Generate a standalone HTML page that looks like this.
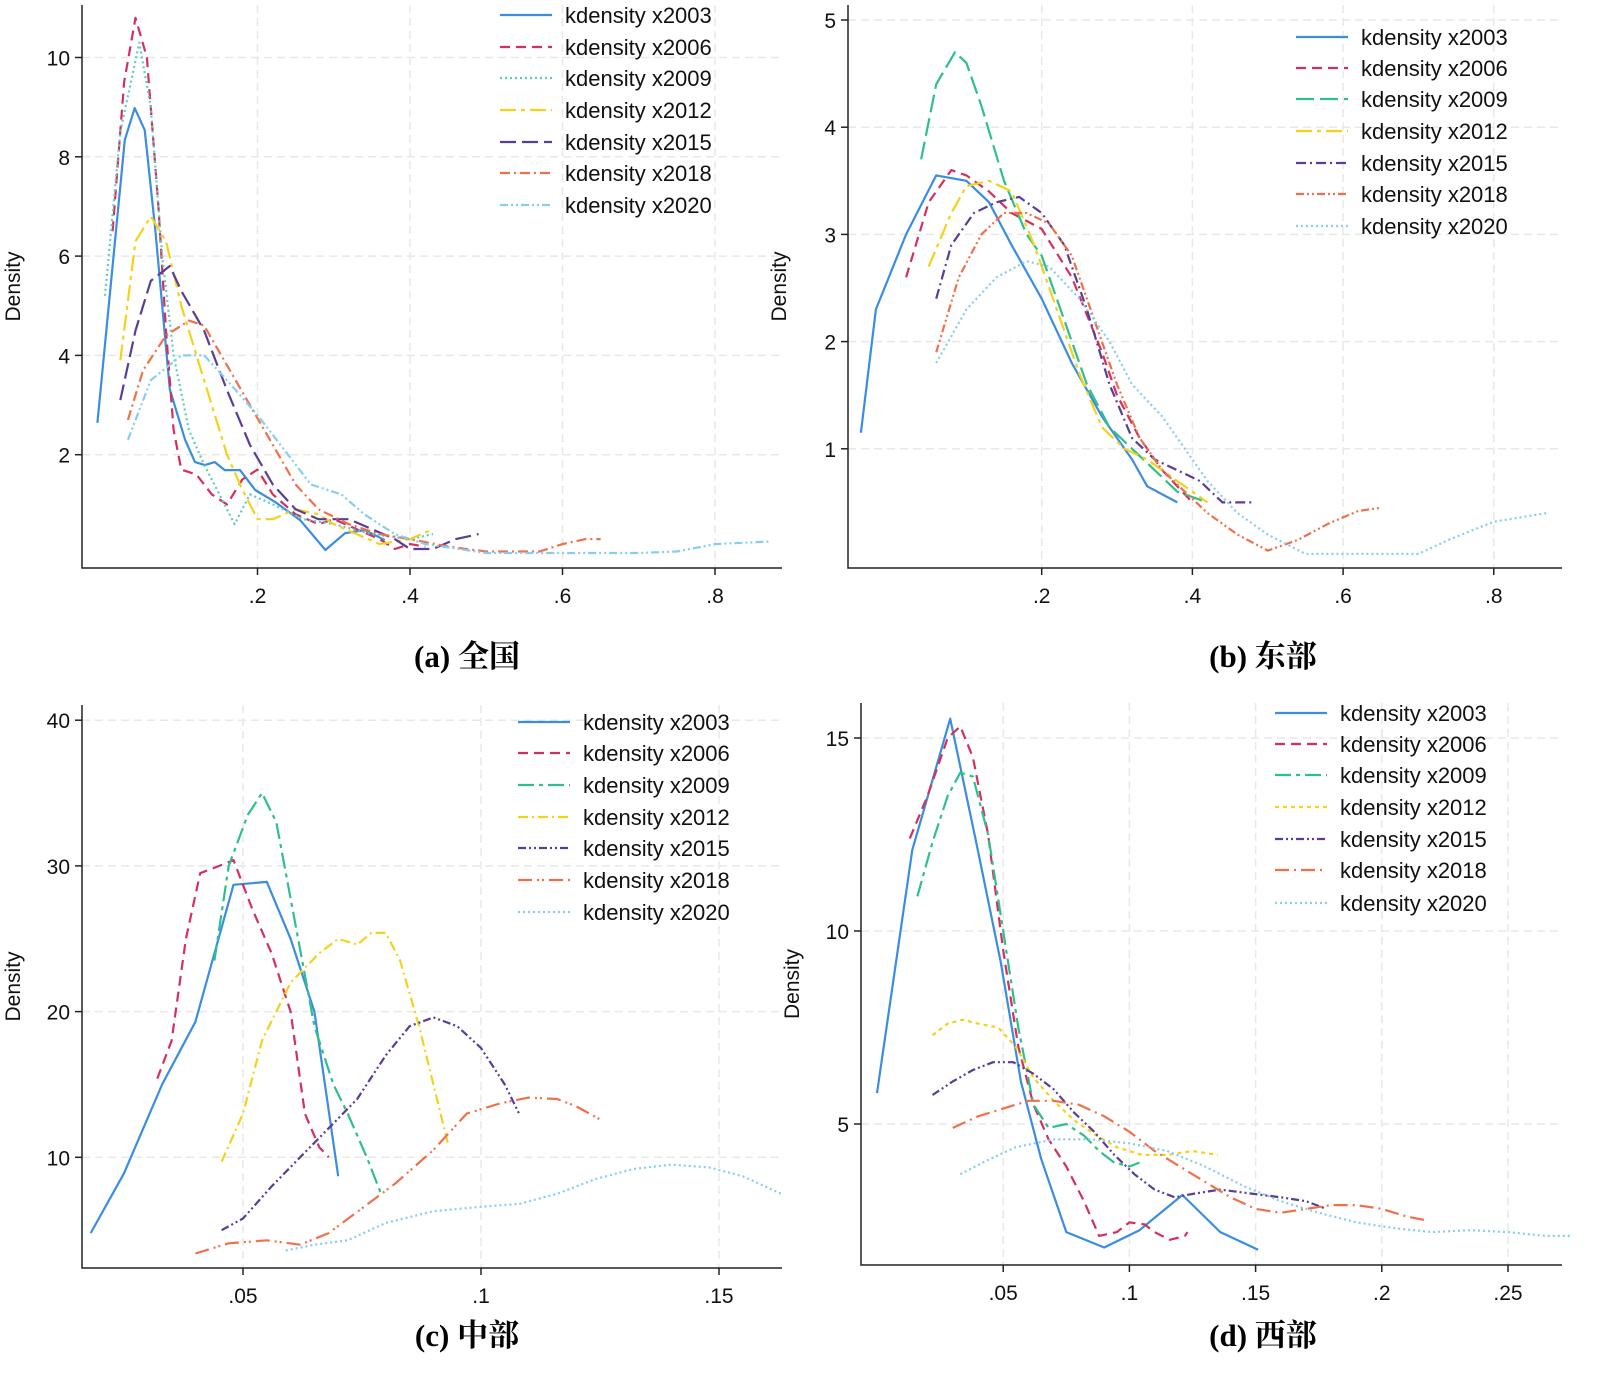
<!DOCTYPE html>
<html><head><meta charset="utf-8">
<style>
html,body{margin:0;padding:0;background:#fff;}
svg{display:block;font-family:"Liberation Sans",sans-serif;}
.cap{font-family:"Liberation Serif","Noto Serif CJK SC",serif;font-size:31px;font-weight:bold;}
</style></head>
<body>
<svg id="chart" width="1600" height="1387" viewBox="0 0 1600 1387">
<text class="cap" x="467" y="667" text-anchor="middle">(a) 全国</text>
<text class="cap" x="1263" y="667" text-anchor="middle">(b) 东部</text>
<text class="cap" x="467" y="1346" text-anchor="middle">(c) 中部</text>
<text class="cap" x="1263" y="1346" text-anchor="middle">(d) 西部</text>
</svg>
<script>
// ---- data ----
const seriesNames = ["kdensity x2003","kdensity x2006","kdensity x2009","kdensity x2012","kdensity x2015","kdensity x2018","kdensity x2020"];
// Panel a
const aTicksX = [0.2,0.4,0.6,0.8];
const aTickLabelsX = [".2",".4",".6",".8"];
const aTicksY = [2,4,6,8,10];
const a2003 = [[-0.01,2.64],[0.026,8.34],[0.039,8.98],[0.052,8.54],[0.066,6.53],[0.085,3.32],[0.105,2.3],[0.118,1.85],[0.131,1.79],[0.144,1.85],[0.157,1.69],[0.177,1.69],[0.197,1.29],[0.223,1.05],[0.256,0.68],[0.289,0.08],[0.315,0.42],[0.341,0.48],[0.367,0.28]];
const a2006 = [[0.01,6.5],[0.025,9.5],[0.04,10.8],[0.055,10],[0.07,7],[0.08,4.5],[0.09,2.5],[0.1,1.7],[0.12,1.6],[0.14,1.2],[0.16,1.0],[0.18,1.5],[0.2,1.7],[0.22,1.2],[0.25,0.8],[0.28,0.6],[0.3,0.7],[0.33,0.5],[0.36,0.3],[0.38,0.1],[0.4,0.2],[0.42,0.15]];
const a2009 = [[0.0,5.2],[0.02,8.5],[0.045,10.3],[0.06,9],[0.075,6],[0.09,4],[0.11,2.5],[0.13,1.8],[0.15,1.2],[0.17,0.6],[0.19,1.2],[0.22,1.0],[0.26,0.7],[0.3,0.6],[0.35,0.4],[0.4,0.3],[0.43,0.4]];
const a2012 = [[0.02,3.9],[0.04,6.3],[0.06,6.8],[0.08,6.3],[0.1,5],[0.12,4],[0.14,3],[0.16,2],[0.18,1.3],[0.2,0.7],[0.22,0.7],[0.25,0.9],[0.28,0.8],[0.3,0.6],[0.33,0.4],[0.36,0.2],[0.4,0.3],[0.43,0.5]];
const a2015 = [[0.02,3.1],[0.04,4.5],[0.06,5.5],[0.085,5.8],[0.1,5.3],[0.13,4.5],[0.16,3.3],[0.19,2.2],[0.22,1.4],[0.25,0.9],[0.28,0.7],[0.32,0.7],[0.35,0.5],[0.38,0.3],[0.4,0.1],[0.43,0.1],[0.46,0.3],[0.49,0.4]];
const a2018 = [[0.03,2.7],[0.05,3.7],[0.08,4.4],[0.11,4.7],[0.13,4.6],[0.16,3.8],[0.19,3.0],[0.22,2.2],[0.25,1.4],[0.28,0.9],[0.32,0.6],[0.36,0.4],[0.4,0.3],[0.45,0.15],[0.5,0.05],[0.57,0.05],[0.6,0.2],[0.63,0.3],[0.65,0.3]];
const a2020 = [[0.03,2.3],[0.06,3.5],[0.1,4.0],[0.13,4.0],[0.16,3.5],[0.2,2.8],[0.24,2.0],[0.27,1.4],[0.31,1.2],[0.34,0.8],[0.38,0.4],[0.42,0.2],[0.5,0.02],[0.6,0.02],[0.7,0.02],[0.75,0.05],[0.8,0.2],[0.87,0.25]];
// Panel b
const bTicksX = [0.2,0.4,0.6,0.8];
const bTickLabelsX = [".2",".4",".6",".8"];
const bTicksY = [1,2,3,4,5];
const b2003 = [[-0.04,1.15],[-0.02,2.3],[0.02,3.0],[0.06,3.55],[0.1,3.5],[0.13,3.3],[0.16,2.9],[0.2,2.4],[0.24,1.8],[0.28,1.3],[0.32,0.9],[0.34,0.65],[0.38,0.5]];
const b2006 = [[0.02,2.6],[0.05,3.3],[0.08,3.6],[0.1,3.55],[0.13,3.4],[0.16,3.2],[0.2,3.05],[0.24,2.6],[0.28,1.9],[0.3,1.5],[0.33,1.1],[0.36,0.8],[0.4,0.5]];
const b2009 = [[0.04,3.7],[0.06,4.4],[0.085,4.7],[0.1,4.6],[0.12,4.2],[0.15,3.5],[0.18,3.0],[0.2,2.8],[0.23,2.2],[0.26,1.6],[0.29,1.2],[0.32,1.0],[0.35,0.8],[0.38,0.6],[0.42,0.5]];
const b2012 = [[0.05,2.7],[0.08,3.2],[0.1,3.45],[0.13,3.5],[0.16,3.4],[0.19,2.9],[0.22,2.3],[0.25,1.7],[0.28,1.2],[0.31,1.0],[0.34,0.9],[0.38,0.7],[0.42,0.5]];
const b2015 = [[0.06,2.4],[0.08,2.9],[0.11,3.2],[0.14,3.3],[0.17,3.35],[0.2,3.2],[0.23,2.9],[0.26,2.3],[0.29,1.6],[0.32,1.1],[0.35,0.9],[0.38,0.8],[0.41,0.7],[0.44,0.5],[0.48,0.5]];
const b2018 = [[0.06,1.9],[0.09,2.6],[0.12,3.0],[0.15,3.2],[0.18,3.2],[0.21,3.1],[0.24,2.8],[0.27,2.2],[0.3,1.6],[0.33,1.1],[0.36,0.8],[0.39,0.6],[0.42,0.4],[0.46,0.2],[0.5,0.05],[0.54,0.15],[0.58,0.3],[0.62,0.42],[0.65,0.45]];
const b2020 = [[0.06,1.8],[0.1,2.3],[0.14,2.6],[0.18,2.75],[0.21,2.7],[0.25,2.4],[0.29,2.0],[0.32,1.6],[0.36,1.3],[0.39,1.0],[0.42,0.7],[0.46,0.4],[0.5,0.2],[0.55,0.02],[0.6,0.02],[0.7,0.02],[0.74,0.15],[0.8,0.32],[0.87,0.4]];
// Panel c
const cTicksX = [0.05,0.1,0.15];
const cTickLabelsX = [".05",".1",".15"];
const cTicksY = [10,20,30,40];
const c2003 = [[0.018,4.8],[0.025,8.9],[0.033,15],[0.04,19.3],[0.048,28.7],[0.055,28.9],[0.06,25],[0.065,20],[0.07,8.7]];
const c2006 = [[0.032,15.4],[0.035,18],[0.038,25],[0.041,29.5],[0.045,30],[0.048,30.4],[0.052,27],[0.056,24],[0.06,20],[0.063,13],[0.066,10.7],[0.068,10]];
const c2009 = [[0.044,23.5],[0.047,30],[0.051,33.5],[0.054,35],[0.057,33],[0.061,26],[0.065,19],[0.069,15],[0.072,13],[0.076,10],[0.079,7.5]];
const c2012 = [[0.0455,9.7],[0.05,13],[0.054,18],[0.06,22],[0.066,24],[0.07,25],[0.074,24.6],[0.077,25.4],[0.08,25.4],[0.083,23.5],[0.087,19],[0.09,15],[0.093,11]];
const c2015 = [[0.0455,5],[0.05,5.8],[0.056,8],[0.062,10],[0.068,12],[0.074,14],[0.08,17],[0.085,19],[0.09,19.6],[0.095,19],[0.1,17.5],[0.105,15],[0.108,13]];
const c2018 = [[0.04,3.4],[0.047,4.1],[0.055,4.3],[0.062,4.0],[0.068,4.8],[0.075,6.5],[0.082,8.2],[0.09,10.5],[0.097,13],[0.104,13.7],[0.11,14.1],[0.116,14],[0.12,13.5],[0.125,12.6]];
const c2020 = [[0.059,3.6],[0.065,4],[0.072,4.3],[0.08,5.5],[0.09,6.3],[0.1,6.6],[0.108,6.8],[0.116,7.5],[0.124,8.5],[0.132,9.2],[0.14,9.5],[0.148,9.3],[0.155,8.7],[0.163,7.5]];
// Panel d
const dTicksX = [0.05,0.1,0.15,0.2,0.25];
const dTickLabelsX = [".05",".1",".15",".2",".25"];
const dTicksY = [5,10,15];
const d2003 = [[0.0,5.8],[0.014,12.1],[0.029,15.5],[0.039,12.4],[0.049,9.2],[0.057,6.1],[0.065,4.1],[0.075,2.2],[0.09,1.8],[0.104,2.25],[0.121,3.16],[0.136,2.2],[0.151,1.74]];
const d2006 = [[0.013,12.4],[0.02,13.5],[0.028,15],[0.033,15.3],[0.038,14.5],[0.044,12.5],[0.05,9.5],[0.056,7],[0.062,5.5],[0.068,4.6],[0.075,3.9],[0.082,3.0],[0.088,2.1],[0.095,2.2],[0.1,2.45],[0.106,2.4],[0.11,2.2],[0.116,2.0],[0.122,2.1],[0.123,2.2]];
const d2009 = [[0.016,10.9],[0.022,12.3],[0.028,13.5],[0.033,14.1],[0.038,14.0],[0.044,12.5],[0.05,10],[0.056,7.5],[0.062,5.5],[0.068,4.9],[0.075,5.0],[0.082,4.7],[0.088,4.3],[0.094,4.0],[0.1,3.9],[0.104,4.0]];
const d2012 = [[0.022,7.3],[0.028,7.6],[0.034,7.7],[0.04,7.6],[0.048,7.5],[0.055,7.0],[0.062,6.2],[0.07,5.6],[0.078,5.1],[0.087,4.7],[0.095,4.4],[0.105,4.2],[0.115,4.2],[0.125,4.3],[0.135,4.2]];
const d2015 = [[0.022,5.75],[0.03,6.1],[0.038,6.4],[0.046,6.6],[0.054,6.6],[0.062,6.3],[0.07,5.9],[0.078,5.3],[0.086,4.8],[0.094,4.2],[0.102,3.7],[0.11,3.3],[0.118,3.1],[0.126,3.2],[0.136,3.3],[0.148,3.2],[0.16,3.1],[0.17,3.0],[0.178,2.8]];
const d2018 = [[0.03,4.9],[0.04,5.2],[0.05,5.4],[0.06,5.6],[0.07,5.6],[0.08,5.5],[0.09,5.2],[0.1,4.8],[0.11,4.3],[0.12,3.9],[0.13,3.5],[0.14,3.1],[0.15,2.8],[0.16,2.7],[0.17,2.8],[0.18,2.9],[0.19,2.9],[0.2,2.8],[0.21,2.6],[0.218,2.5]];
const d2020 = [[0.033,3.7],[0.045,4.1],[0.055,4.4],[0.07,4.6],[0.085,4.6],[0.1,4.5],[0.115,4.3],[0.13,3.9],[0.145,3.4],[0.16,3.0],[0.175,2.7],[0.19,2.45],[0.205,2.3],[0.22,2.2],[0.235,2.25],[0.25,2.2],[0.265,2.1],[0.275,2.1]];

// ---- styling / layout ----
const NS = "http://www.w3.org/2000/svg";
const svg = document.getElementById("chart");
const colors = ["#3a8de0","#d42f5f","#2fc08a","#f4d21c","#5a3e96","#f0704a","#86cdee"];
const panels = [
 {id:"a", series:[a2003,a2006,a2009,a2012,a2015,a2018,a2020], tx:aTicksX, tl:aTickLabelsX, ty:aTicksY,
  left:82, right:782, top:5, bottom:568, x0:105, xk:762.5, y0:554, yk:49.65, legX:500, legY:[15,47,78,110,142,173,205],
  colors:[colors[0],colors[1],"#5ccdbf",colors[3],colors[4],colors[5],colors[6]],
  dash:["","10,6","2,3","16,5,4,5","16,6","10,4,2,4","8,3,2,3,2,3"]},
 {id:"b", series:[b2003,b2006,b2009,b2012,b2015,b2018,b2020], tx:bTicksX, tl:bTickLabelsX, ty:bTicksY,
  left:848, right:1562, top:5, bottom:568, x0:891, xk:753.5, y0:556, yk:107.2, legX:1296, legY:[37,68,99,131,163,194,226],
  colors:colors, dash:["","10,6","18,6","16,5,4,5","10,4,2,4","8,3,2,3,2,3","2,3"]},
 {id:"c", series:[c2003,c2006,c2009,c2012,c2015,c2018,c2020], tx:cTicksX, tl:cTickLabelsX, ty:cTicksY,
  left:82, right:782, top:705, bottom:1268, x0:5, xk:4760, y0:1303, yk:14.57, legX:518, legY:[722,753,785,817,848,880,912],
  colors:colors, dash:["","10,6","16,5,4,5","10,4,2,4","8,3,2,3,2,3","14,5,2,3,2,5","2,3"]},
 {id:"d", series:[d2003,d2006,d2009,d2012,d2015,d2018,d2020], tx:dTicksX, tl:dTickLabelsX, ty:dTicksY,
  left:861, right:1562, top:703, bottom:1265, x0:877, xk:2524, y0:1317, yk:38.6, legX:1275, legY:[713,744,775,807,839,870,903],
  colors:colors, dash:["","10,6","16,5,4,5","4,4","8,3,2,3,2,3","14,5,2,5","2,3"]}
];

function mk(tag, attrs, parent){
  const e = document.createElementNS(NS, tag);
  for (const k in attrs) e.setAttribute(k, attrs[k]);
  (parent||svg).appendChild(e);
  return e;
}

panels.forEach(p => {
  const g = mk("g", {});
  
  
  const sx = v => p.x0 + v * p.xk;
  const sy = v => p.y0 - v * p.yk;
  p.tx.forEach((t, i) => {
    const gl = mk("line", {x1:sx(t), x2:sx(t), y1:p.top, y2:p.bottom, stroke:"#e8e8e8", "stroke-width":1.5, "stroke-dasharray":"8,5"}, g);
    
    
    const tk = mk("line", {x1:sx(t), x2:sx(t), y1:p.bottom, y2:p.bottom+7, stroke:"#222", "stroke-width":1.5}, g);
    
    
    const tl = mk("text", {x:sx(t), y:p.bottom+35, "text-anchor":"middle", "font-size":21, fill:"#111"}, g);
    tl.textContent = p.tl[i];
    
    
  });
  p.ty.forEach(t => {
    const gl = mk("line", {x1:p.left, x2:p.right, y1:sy(t), y2:sy(t), stroke:"#e8e8e8", "stroke-width":1.5, "stroke-dasharray":"8,5"}, g);
    
    
    const tk = mk("line", {x1:p.left-7, x2:p.left, y1:sy(t), y2:sy(t), stroke:"#222", "stroke-width":1.5}, g);
    
    
    const tl = mk("text", {x:p.left-12, y:sy(t)+8, "text-anchor":"end", "font-size":21, fill:"#111"}, g);
    tl.textContent = String(t);
    
    
  });
  const ax = mk("path", {d:`M${p.left},${p.top}V${p.bottom}H${p.right}`, fill:"none", stroke:"#222", "stroke-width":1.5}, g);
  
  
  const yt = mk("text", {transform:`translate(${p.left-62},${(p.top+p.bottom)/2}) rotate(-90)`, "text-anchor":"middle", "font-size":21, fill:"#111"}, g);
  yt.textContent = "Density";
  
  
  p.series.forEach((s, i) => {
    const d = s.map((pt, j) => (j ? "L" : "M") + sx(pt[0]).toFixed(1) + "," + sy(pt[1]).toFixed(1)).join("");
    const ln = mk("path", {d:d, fill:"none", stroke:p.colors[i], "stroke-width":2.2, "stroke-dasharray":p.dash[i], "stroke-linejoin":"round"}, g);
    
    
    const ly = p.legY[i];
    const ls = mk("line", {x1:p.legX, x2:p.legX+52, y1:ly, y2:ly, stroke:p.colors[i], "stroke-width":2.2, "stroke-dasharray":p.dash[i]}, g);
    
    
    const lt = mk("text", {x:p.legX+65, y:ly+8, "font-size":22, fill:"#111"}, g);
    lt.textContent = seriesNames[i];
    
    
  });
});
</script>
</body></html>
